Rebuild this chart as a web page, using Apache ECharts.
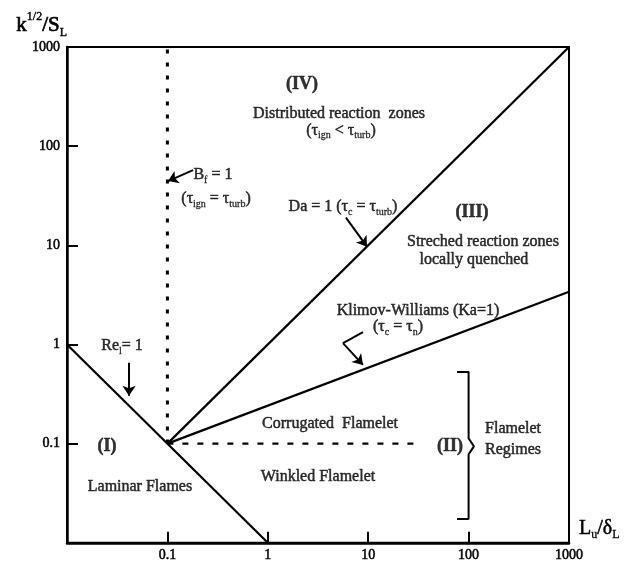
<!DOCTYPE html>
<html>
<head>
<meta charset="utf-8">
<script src="https://cdn.jsdelivr.net/npm/echarts@6/dist/echarts.min.js"></script>
<style>
html,body{margin:0;padding:0;background:#fff;}
#c{width:627px;height:563px;}
</style>
</head>
<body>
<div id="c"></div>
<script>
// ---- data (log-log regime diagram) ----
const xTickLabels = ['', '0.1', '1', '10', '100', '1000'];
const yTickLabels = ['', '0.1', '1', '10', '100', '1000'];

const reLine = [[0.01, 1], [1, 0.01]];               // Re_l = 1
const daLine = [[0.1, 0.1], [1000, 1000]];           // Da = 1
const kaLine = [[0.1, 0.1], [1000, 3.4]];            // Ka = 1 (Klimov-Williams)
const bfLine = [[0.1, 0.1], [0.1, 1000]];            // B_f = 1 (dotted)
const flameletSplit = [[0.1, 0.1], [30, 0.1]];       // corrugated / wrinkled (dashed)
const flameletBracket = [[76.6, 0.528], [100, 0.528], [100, 0.113], [113, 0.0938], [100, 0.078], [100, 0.0174], [76.6, 0.0174]];

const reArrow = [[0.0415, 0.652], [0.0415, 0.304]];
const bfArrow = [[0.18, 57.2], [0.1015, 44.4]];
const daArrow = [[6.0, 19.0], [9.73, 9.68]];
const kaArrow = [[8.87, 1.33], [5.61, 1.03], [8.87, 0.622]];

const noteTexts = [
  '(IV)', 'Distributed reaction  zones', '(τ_{ign} < τ_{turb})',
  'B_{f} = 1', '(τ_{ign} = τ_{turb})', 'Da = 1 (τ_{c} = τ_{turb})',
  '(III)', 'Streched reaction zones', 'locally quenched',
  'Klimov-Williams (Ka=1)', '(τ_{c} = τ_{n})', 'Re_{l}= 1',
  'Corrugated  Flamelet', '(I)', '(II)', 'Laminar Flames',
  'Winkled Flamelet', 'Flamelet', 'Regimes'
];
const noteX = [2.19, 5.12, 5.36, 0.284, 0.305, 5.61, 108, 139, 113, 31.3, 19.8, 0.0353, 4.17, 0.025, 65.3, 0.0533, 3.16, 277, 277];
const noteY = [416, 213, 144, 51.0, 29.3, 24.4, 21.7, 10.9, 7.17, 2.16, 1.49, 0.964, 0.159, 0.0938, 0.0938, 0.0364, 0.0458, 0.142, 0.0875];
const noteBold = [true, false, false, false, false, false, true, false, false, false, false, false, false, true, true, false, false, false, false];

// ---- build ----
const FONT = '"Liberation Serif", "DejaVu Serif", serif';
const INK = {color: '#000', textBorderColor: '#000', textBorderWidth: 0.5};
function toRich(str, base) {
  let out = '', buf = '', i = 0;
  while (i < str.length) {
    if ((str[i] === '_' || str[i] === '^') && str[i + 1] === '{') {
      if (buf) out += '{' + base + '|' + buf + '}';
      buf = '';
      const j = str.indexOf('}', i);
      out += '{' + (str[i] === '_' ? 's' : 'p') + '|' + str.slice(i + 2, j) + '}';
      i = j + 1;
    } else { buf += str[i]; i++; }
  }
  if (buf) out += '{' + base + '|' + buf + '}';
  return out;
}
const noteRich = {
  n: Object.assign({fontFamily: FONT, fontSize: 16, lineHeight: 20, verticalAlign: 'middle'}, INK),
  b: Object.assign({fontFamily: FONT, fontSize: 18, fontWeight: 'bold', lineHeight: 20, verticalAlign: 'middle'}, INK),
  s: Object.assign({fontFamily: FONT, fontSize: 10, lineHeight: 20, verticalAlign: 'bottom'}, INK, {textBorderWidth: 0.3}),
  p: Object.assign({fontFamily: FONT, fontSize: 10, lineHeight: 20, verticalAlign: 'top'}, INK, {textBorderWidth: 0.3})
};
const noteData = noteTexts.map((t, i) => ({
  value: [noteX[i], noteY[i]],
  name: toRich(t, noteBold[i] ? 'b' : 'n')
}));

function lineSeries(data, type, width) {
  return {
    type: 'line', data: data, showSymbol: false, symbol: 'none', silent: true,
    lineStyle: {color: '#000', width: width, type: type, cap: 'butt'}, z: 3
  };
}

const chart = echarts.init(document.getElementById('c'), null, {renderer: 'canvas'});
chart.setOption({
  animation: false,
  backgroundColor: '#fff',
  grid: {left: 67, right: 58, top: 47, bottom: 17, show: true, borderColor: '#000', borderWidth: 2, backgroundColor: 'transparent'},
  xAxis: {
    type: 'log', logBase: 10, min: 0.01, max: 1000, interval: 1,
    name: toRich('L_{u}/δ_{L}', 'n'),
    nameLocation: 'end', nameGap: 10,
    nameTextStyle: {padding: [0, 0, 28, 0], rich: {
      n: Object.assign({fontFamily: FONT, fontSize: 20, lineHeight: 24, verticalAlign: 'middle'}, INK),
      s: Object.assign({fontFamily: FONT, fontSize: 12, lineHeight: 24, verticalAlign: 'bottom'}, INK, {textBorderWidth: 0.3})
    }},
    axisLine: {show: true, lineStyle: {color: '#000', width: 2.5}},
    axisTick: {show: true, inside: true, length: 11, lineStyle: {color: '#000', width: 2}},
    minorTick: {show: false},
    splitLine: {show: false},
    axisLabel: Object.assign({
      margin: 6, fontFamily: FONT, fontSize: 14,
      formatter: (v, i) => xTickLabels[i] || ''
    }, INK),
  },
  yAxis: {
    type: 'log', logBase: 10, min: 0.01, max: 1000, interval: 1,
    name: '{b|k}{p|1/2}{b|/S}{s|L}',
    nameLocation: 'end', nameGap: 22,
    nameTextStyle: {align: 'right', verticalAlign: 'middle', rich: {
      b: Object.assign({fontFamily: FONT, fontSize: 21, lineHeight: 28, verticalAlign: 'middle'}, INK, {textBorderWidth: 0.7}),
      p: Object.assign({fontFamily: FONT, fontSize: 12, lineHeight: 28, verticalAlign: 'top'}, INK, {textBorderWidth: 0.4}),
      s: Object.assign({fontFamily: FONT, fontSize: 12, lineHeight: 28, verticalAlign: 'bottom'}, INK, {textBorderWidth: 0.4})
    }},
    axisLine: {show: true, lineStyle: {color: '#000', width: 2.5}},
    axisTick: {show: true, inside: true, length: 11, lineStyle: {color: '#000', width: 2}},
    minorTick: {show: false},
    splitLine: {show: false},
    axisLabel: Object.assign({
      margin: 7, fontFamily: FONT, fontSize: 14,
      formatter: (v, i) => yTickLabels[i] || ''
    }, INK)
  },
  series: [
    lineSeries(reLine, 'solid', 2.2),
    lineSeries(daLine, 'solid', 2.2),
    lineSeries(kaLine, 'solid', 2.2),
    lineSeries(bfLine, [4, 9], 3),
    lineSeries(flameletSplit, [6, 9], 2.2),
    lineSeries(flameletBracket, 'solid', 2),
    {
      type: 'lines', coordinateSystem: 'cartesian2d', silent: true,
      symbol: ['none', 'none'],
      lineStyle: {color: '#000', width: 2, opacity: 1},
      data: [{coords: [kaArrow[0], kaArrow[1]]}], z: 4
    },
    {
      type: 'lines', coordinateSystem: 'cartesian2d', silent: true,
      symbol: ['none', 'arrow'], symbolSize: [7, 10],
      lineStyle: {color: '#000', width: 2, opacity: 1},
      itemStyle: {color: '#000'},
      data: [
        {coords: reArrow}, {coords: bfArrow}, {coords: daArrow},
        {coords: [kaArrow[1], kaArrow[2]]}
      ], z: 4
    },
    {
      type: 'scatter', data: noteData, symbolSize: 0, silent: true, z: 5,
      label: {
        show: true, position: 'inside', align: 'center', verticalAlign: 'middle',
        formatter: p => p.name, rich: noteRich
      }
    }
  ]
});
</script>
</body>
</html>
